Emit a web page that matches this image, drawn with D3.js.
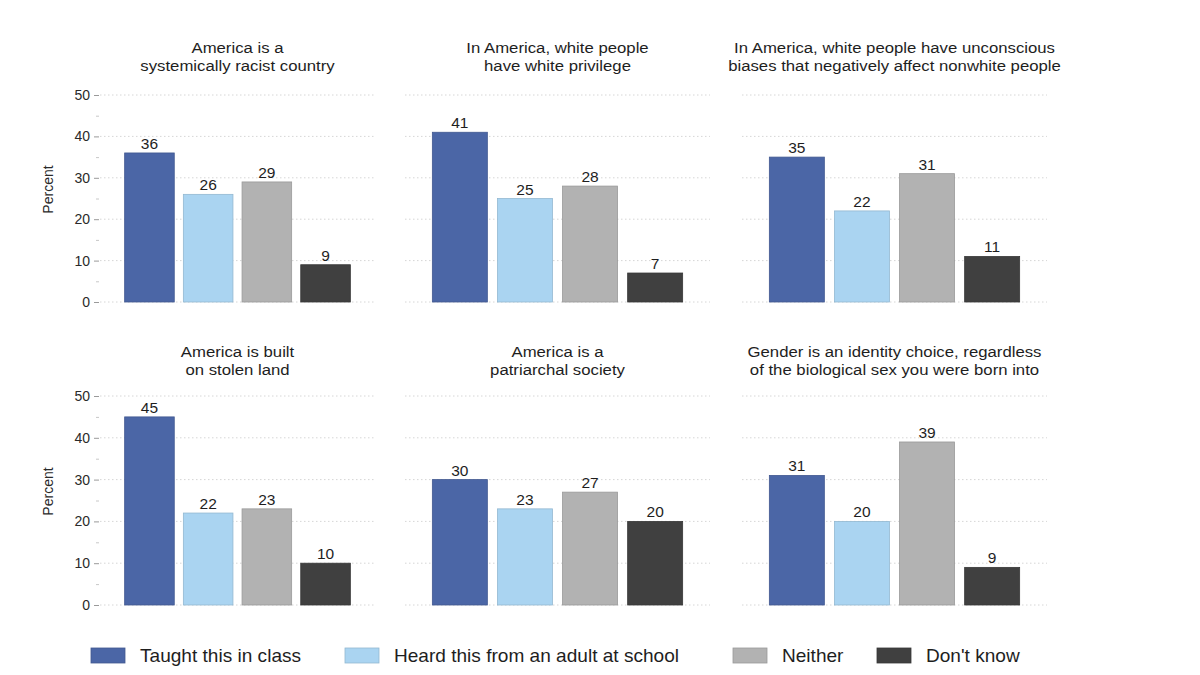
<!DOCTYPE html>
<html>
<head>
<meta charset="utf-8">
<script src="https://cdn.jsdelivr.net/npm/d3@7"></script>
<style>
  body { margin: 0; background: #fff; }
  svg { display: block; font-family: "Liberation Sans", Arial, Helvetica, sans-serif; }
</style>
</head>
<body>
<svg id="chart" width="1200" height="675"></svg>
<script>
// ---- data ----
const categories = ["Taught this in class", "Heard this from an adult at school", "Neither", "Don't know"];
const colors = ["#4b66a6", "#aad4f1", "#b2b2b2", "#404040"];
const panelTitles = [
  ["America is a", "systemically racist country"],
  ["In America, white people", "have white privilege"],
  ["In America, white people have unconscious", "biases that negatively affect nonwhite people"],
  ["America is built", "on stolen land"],
  ["America is a", "patriarchal society"],
  ["Gender is an identity choice, regardless", "of the biological sex you were born into"]
];
const systemicallyRacist = [36, 26, 29, 9];
const whitePrivilege = [41, 25, 28, 7];
const unconsciousBiases = [35, 22, 31, 11];
const stolenLand = [45, 22, 23, 10];
const patriarchal = [30, 23, 27, 20];
const genderChoice = [31, 20, 39, 9];
const seriesValues = [systemicallyRacist, whitePrivilege, unconsciousBiases, stolenLand, patriarchal, genderChoice];
const yTicks = [0, 10, 20, 30, 40, 50];
const yMinorTicks = [5, 15, 25, 35, 45];
const yLabel = "Percent";

// ---- layout ----
const svg = d3.select("#chart");
const colX = [[100, 375], [405, 710], [742, 1047]];
const rowY = [[302, 95], [605, 396]];
const textColor = "#1e1e1e";

seriesValues.forEach((vals, i) => {
  const col = i % 3, row = Math.floor(i / 3);
  const x = d3.scaleBand().domain(categories).range(colX[col]).paddingInner(0.155).paddingOuter(0.42);
  const y = d3.scaleLinear().domain([0, 50]).range(rowY[row]);
  const g = svg.append("g");

  // gridlines
  g.selectAll("line.grid").data(yTicks).join("line")
    .attr("x1", colX[col][0]).attr("x2", colX[col][1])
    .attr("y1", d => y(d)).attr("y2", d => y(d))
    .attr("stroke", "#d6d6d6").attr("stroke-width", 1)
    .attr("stroke-dasharray", "1.5,2.5");

  // y axis only on first column
  if (col === 0) {
    const axis = d3.axisLeft(y).tickValues(yTicks).tickSize(5).tickPadding(3);
    const ag = g.append("g").attr("transform", `translate(${colX[col][0] - 1},0)`).call(axis);
    ag.select(".domain").remove();
    ag.selectAll(".tick line").attr("stroke", "#9a9a9a");
    ag.selectAll(".tick text").attr("font-size", 14).attr("fill", "#2a2a2a")
      .attr("transform", "translate(-1,0)");
    const minor = d3.axisLeft(y).tickValues(yMinorTicks).tickSize(3).tickFormat("");
    const mg = g.append("g").attr("transform", `translate(${colX[col][0] - 1},0)`).call(minor);
    mg.select(".domain").remove();
    mg.selectAll(".tick line").attr("stroke", "#c8c8c8");

    g.append("text")
      .attr("transform", `translate(53,${(rowY[row][0] + rowY[row][1]) / 2 - 9}) rotate(-90)`)
      .attr("text-anchor", "middle")
      .attr("font-size", 14).attr("fill", "#2a2a2a")
      .text(yLabel);
  }

  // bars
  g.selectAll("rect.bar").data(vals).join("rect")
    .attr("x", (d, j) => x(categories[j]))
    .attr("width", x.bandwidth())
    .attr("y", d => y(d))
    .attr("height", d => y(0) - y(d))
    .attr("fill", (d, j) => colors[j])
    .attr("stroke", (d, j) => d3.color(colors[j]).darker(0.4))
    .attr("stroke-width", 0.8);

  // value labels
  g.selectAll("text.val").data(vals).join("text")
    .attr("transform", d => `translate(0,${y(d) - 4})`)
    .attr("x", (d, j) => x(categories[j]) + x.bandwidth() / 2)
    .attr("text-anchor", "middle")
    .attr("font-size", 15.5).attr("fill", textColor)
    .text(d => d);

  // title
  const cx = (colX[col][0] + colX[col][1]) / 2;
  const t0 = row === 0 ? 53 : 357;
  g.selectAll("text.title").data(panelTitles[i]).join("text")
    .attr("transform", (d, k) => `translate(${cx},${t0 + k * 18}) scale(1.08,1)`)
    .attr("text-anchor", "middle")
    .attr("font-size", 15.5).attr("fill", textColor)
    .text(d => d);
});

// ---- legend ----
const legendX = [91, 345, 733, 877];
const lg = svg.append("g");
categories.forEach((c, j) => {
  lg.append("rect").attr("x", legendX[j]).attr("y", 648).attr("width", 34).attr("height", 15)
    .attr("fill", colors[j]).attr("stroke", d3.color(colors[j]).darker(0.4)).attr("stroke-width", 0.8);
  lg.append("text")
    .attr("transform", `translate(${legendX[j] + 49},662) scale(1.06,1)`)
    .attr("font-size", 18).attr("fill", textColor).text(c);
});
</script>
</body>
</html>
